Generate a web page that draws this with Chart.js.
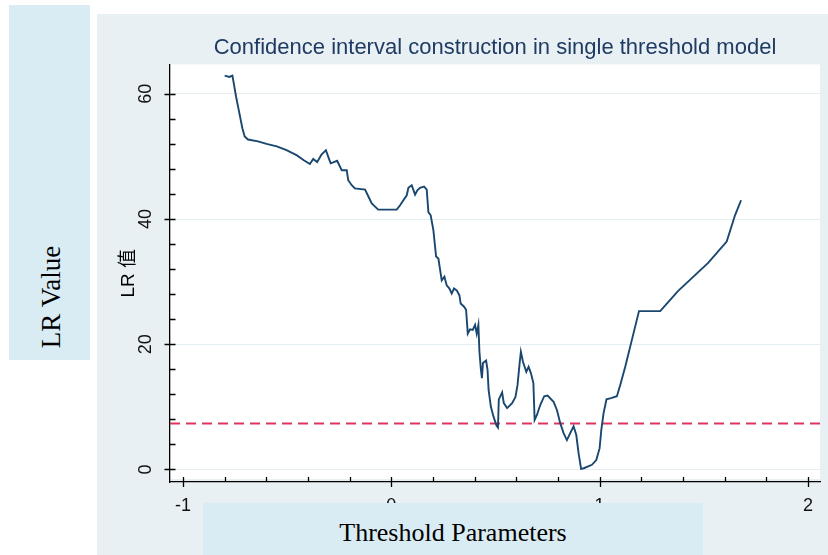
<!DOCTYPE html>
<html>
<head>
<meta charset="utf-8">
<script src="https://cdn.jsdelivr.net/npm/chart.js@4.4.1/dist/chart.umd.min.js"></script>
<style>
  body { margin: 0; background: #fff; width: 828px; height: 555px; position: relative; overflow: hidden; }
  #panel { position: absolute; left: 97px; top: 14px; width: 731px; height: 541px; background: #e8f0f3; }
  .tag { position: absolute; background: #d9ecf3; font-family: "Liberation Serif", "Times New Roman", serif; color: #000; }
  #ylab { left: 9px; top: 5px; width: 81px; height: 355px; font-size: 27px; }
  #ylab span { position: absolute; left: 42px; top: 292px; transform: translate(-50%, -50%) rotate(-90deg); white-space: nowrap; }
  #xlab { left: 203px; top: 503px; width: 500px; height: 52px; font-size: 26px; text-align: center; line-height: 60px; overflow: hidden; }
</style>
</head>
<body>
<div id="panel"><canvas id="lrChart" width="731" height="541"></canvas></div>
<div class="tag" id="ylab"><span>LR Value</span></div>
<div class="tag" id="xlab">Threshold Parameters</div>
<script>
// threshold grid (x) and LR statistic (y)
const thresholdX = [
  -0.800, -0.778, -0.763, -0.758, -0.745, -0.730, -0.715, -0.704, -0.688, -0.640,
  -0.599, -0.550, -0.503, -0.455, -0.420, -0.391, -0.375, -0.356, -0.335, -0.314,
  -0.300, -0.291, -0.260, -0.238, -0.214, -0.207, -0.190, -0.175, -0.126, -0.110,
  -0.094, -0.063, 0.026, 0.042, 0.058, 0.074, 0.082, 0.098, 0.114, 0.125,
  0.138, 0.157, 0.170, 0.178, 0.189, 0.202, 0.215, 0.226, 0.242, 0.255,
  0.266, 0.279, 0.290, 0.301, 0.314, 0.327, 0.333, 0.349, 0.359, 0.367,
  0.378, 0.391, 0.402, 0.410, 0.418, 0.423, 0.430, 0.435, 0.440, 0.455,
  0.462, 0.467, 0.478, 0.491, 0.505, 0.512, 0.516, 0.532, 0.540, 0.556,
  0.580, 0.596, 0.606, 0.616, 0.622, 0.632, 0.648, 0.659, 0.670, 0.682,
  0.688, 0.699, 0.715, 0.734, 0.750, 0.779, 0.795, 0.811, 0.827, 0.843,
  0.859, 0.875, 0.888, 0.899, 0.911, 0.924, 0.963, 0.984, 1.000, 1.008,
  1.019, 1.033, 1.055, 1.083, 1.099, 1.123, 1.149, 1.189, 1.291, 1.376,
  1.521, 1.610, 1.650, 1.679
];
const lrValues = [
  62.9, 62.7, 62.9, 62.0, 59.5, 57.0, 54.5, 53.2, 52.7, 52.4,
  52.0, 51.6, 51.0, 50.2, 49.4, 48.8, 49.6, 49.1, 50.3, 51.0,
  49.7, 48.9, 49.3, 47.8, 47.8, 46.2, 45.4, 44.9, 44.7, 43.6,
  42.5, 41.5, 41.5, 42.2, 43.0, 43.8, 45.0, 45.4, 43.9, 44.6,
  45.0, 45.2, 44.7, 41.1, 40.6, 38.2, 34.0, 33.7, 30.2, 30.8,
  29.4, 28.9, 28.1, 28.9, 28.6, 27.8, 26.5, 26.0, 25.5, 21.7,
  22.4, 22.3, 23.1, 21.7, 23.1, 18.8, 16.0, 14.6, 17.0, 17.4,
  15.9, 12.7, 10.0, 8.4, 7.0, 6.7, 11.2, 12.3, 10.6, 9.8,
  10.6, 11.6, 13.5, 17.0, 18.8, 17.2, 15.6, 16.4, 15.4, 13.8,
  7.9, 8.7, 10.3, 11.7, 11.8, 10.8, 9.5, 7.4, 5.8, 4.7,
  5.8, 6.9, 5.5, 2.6, 0.1, 0.2, 0.75, 1.5, 3.4, 6.3,
  9.0, 11.2, 11.4, 11.7, 13.5, 16.4, 19.9, 25.3, 25.3, 28.5,
  33.0, 36.4, 40.6, 43.0
];
const criticalValue = 7.35;
const xTickValues = [-1, 0, 1, 2];
const yTickValues = [0, 20, 40, 60];
const xMin = -1.0625, xMax = 2.058;
const yMin = -2, yMax = 64.7;

const sansFamily = '"Liberation Sans", Arial, "Noto Sans CJK SC", sans-serif';
const curvePoints = thresholdX.map((x, i) => ({x: x, y: lrValues[i]}));

// white plot region on the grey-blue panel
const plotBackground = {
  id: 'plotBackground',
  beforeDraw(chart) {
    const {ctx, chartArea: a} = chart;
    ctx.save();
    ctx.fillStyle = '#ffffff';
    ctx.fillRect(a.left, a.top, a.right - a.left, a.bottom - a.top - 3);
    ctx.restore();
  }
};

// stata style ticks: majors cross the axis, minors point inwards
const stataTicks = {
  id: 'stataTicks',
  afterDraw(chart) {
    const {ctx, chartArea: a, scales: {x, y}} = chart;
    ctx.save();
    ctx.strokeStyle = '#000';
    ctx.lineWidth = 1.3;
    ctx.beginPath();
    for (let i = -5; i <= 10; i++) {
      const px = Math.round(x.getPixelForValue(i / 5)) + 0.5;
      const major = i % 5 === 0;
      ctx.moveTo(px, a.bottom - 5);
      ctx.lineTo(px, a.bottom + (major ? 5 : 0));
    }
    for (let v = 0; v <= 60; v += 4) {
      const py = Math.round(y.getPixelForValue(v)) + 0.5;
      const major = v % 20 === 0;
      ctx.moveTo(a.left + 5.5, py);
      ctx.lineTo(a.left - (major ? 5.5 : 0), py);
    }
    ctx.stroke();
    ctx.restore();
  }
};

new Chart(document.getElementById('lrChart'), {
  type: 'line',
  data: {
    datasets: [{
      data: curvePoints,
      borderColor: '#1a476f',
      borderWidth: 1.9,
      pointRadius: 0,
      tension: 0,
      fill: false
    }, {
      data: [{x: xMin, y: criticalValue}, {x: xMax, y: criticalValue}],
      borderColor: '#dc3560',
      borderWidth: 1.9,
      borderDash: [10, 6],
      pointRadius: 0,
      fill: false
    }]
  },
  options: {
    responsive: false,
    animation: false,
    devicePixelRatio: 1,
    layout: { padding: { left: 0, right: 8, top: 0, bottom: 0 } },
    plugins: {
      legend: { display: false },
      tooltip: { enabled: false },
      title: {
        display: true,
        fullSize: false,
        text: 'Confidence interval construction in single threshold model',
        color: '#1f3b63',
        font: { family: sansFamily, size: 22, weight: 'normal' },
        padding: { top: 21, bottom: 3 }
      }
    },
    scales: {
      x: {
        type: 'linear',
        min: xMin,
        max: xMax,
        afterBuildTicks: s => { s.ticks = xTickValues.map(v => ({value: v})); },
        afterFit: s => { s.height = 73; },
        grid: { display: false, drawTicks: false },
        border: { display: true, color: '#000', width: 1.3 },
        ticks: {
          padding: 13,
          color: '#111',
          maxRotation: 0,
          autoSkip: false,
          font: { family: sansFamily, size: 18 }
        }
      },
      y: {
        type: 'linear',
        min: yMin,
        max: yMax,
        afterBuildTicks: s => { s.ticks = yTickValues.map(v => ({value: v})); },
        afterFit: s => { s.width = 73; },
        grid: { color: '#e4edf1', lineWidth: 1, drawTicks: false },
        border: { display: true, color: '#000', width: 1.3 },
        ticks: {
          minRotation: 90,
          maxRotation: 90,
          crossAlign: 'center',
          padding: 14,
          color: '#111',
          autoSkip: false,
          font: { family: sansFamily, size: 18 }
        },
        title: {
          display: true,
          text: 'LR 值',
          color: '#000',
          font: { family: sansFamily, size: 19 },
          padding: { top: 20, bottom: 0 }
        }
      }
    }
  },
  plugins: [plotBackground, stataTicks]
});
</script>
</body>
</html>
